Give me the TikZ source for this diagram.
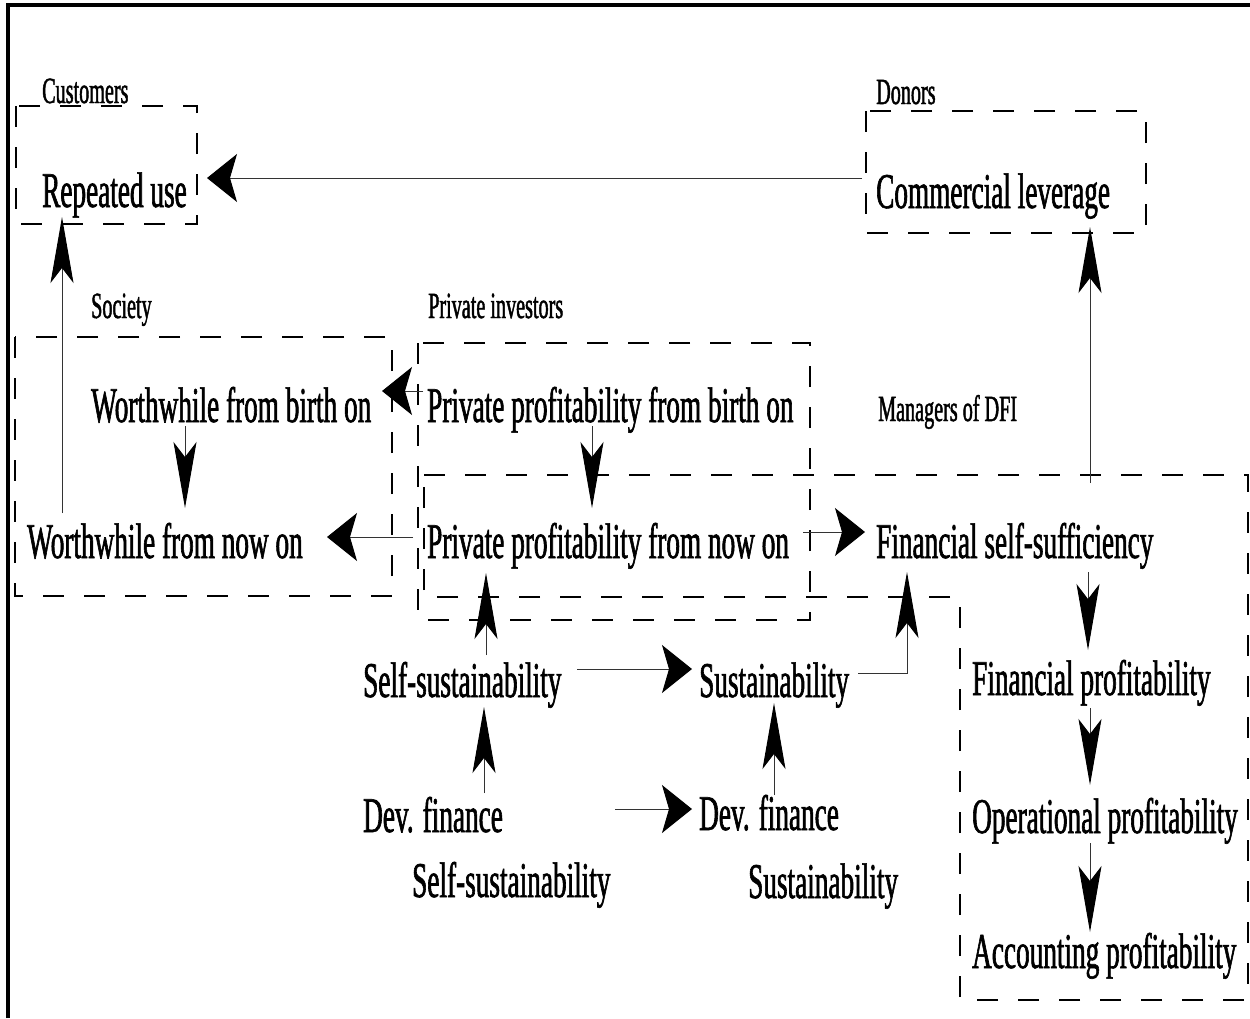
\documentclass[tikz,border=0pt]{standalone}
\usepackage{fontspec}
\newfontfamily\cond[FakeStretch=0.545,FakeBold=1.2]{Liberation Serif}
\usetikzlibrary{arrows.meta}
\begin{document}
\begin{tikzpicture}[x=1pt,y=-1pt,
  big/.style={anchor=base west, inner sep=0pt, font=\cond\fontsize{50}{55}\selectfont},
  small/.style={anchor=base west, inner sep=0pt, font=\cond\fontsize{37}{40}\selectfont},
  grp/.style={dash pattern=on 21pt off 20pt, line width=2.5pt},
  conn/.style={line width=1pt, draw=black!80},
  harr/.style={conn, -{Stealth[length=30pt,width=48pt,inset=7pt,color=black]}},
  varr/.style={conn, -{Stealth[length=66pt,width=23pt,inset=15pt,color=black]}},
  frame/.style={line width=4pt}]
\useasboundingbox[fill=white] (0,0) rectangle (1250,1018);
% frame
\draw[frame] (8,1018) -- (8,4.5) -- (1250,4.5);
% groups
\draw[grp] (16,106) rectangle (197,224);
\draw[grp] (866,111) rectangle (1146,233);
\draw[grp] (15,337) rectangle (392,596);
\draw[grp] (418,343) rectangle (810,620);
\draw[grp] (424,475) -- (1248,475) -- (1248,1000) -- (960,1000) -- (960,597) -- (424,597) -- cycle;
% group labels
\node[small] (lcust) at (42,103) {Customers};
\node[small] (ldon) at (876,104) {Donors};
\node[small] (lsoc) at (91,318) {Society};
\node[small] (lpi) at (428,318) {Private investors};
\node[small] (ldfi) at (878,421) {Managers of DFI};
% nodes
\node[big] (ru) at (42,207) {Repeated use};
\node[big] (cl) at (876,208) {Commercial leverage};
\node[big] (wb) at (91,422) {Worthwhile from birth on};
\node[big] (pb) at (427,422) {Private profitability from birth on};
\node[big] (wn) at (27,558) {Worthwhile from now on};
\node[big] (pn) at (427,558) {Private profitability from now on};
\node[big] (fss) at (876,558) {Financial self-sufficiency};
\node[big] (ss1) at (363,697) {Self-sustainability};
\node[big] (sus1) at (699,697) {Sustainability};
\node[big] (fp) at (972,695) {Financial profitability};
\node[big] (df1) at (363,832) {Dev. finance};
\node[big] (df2) at (699,830) {Dev. finance};
\node[big] (op) at (972,833) {Operational profitability};
\node[big] (ss2) at (412,897) {Self-sustainability};
\node[big] (sus2) at (748,898) {Sustainability};
\node[big] (ap) at (972,968) {Accounting profitability};
% connectors
\draw[harr] ([shift={(-14,-30)}]cl.base west) -- ([shift={(165,-29)}]ru.base west);
\draw[varr] ([shift={(35,-45)}]wn.base west) -- ([shift={(20,10)}]ru.base west);
\draw[harr] ([shift={(-4,-31)}]pb.base west) -- ([shift={(291,-31)}]wb.base west);
\draw[harr] ([shift={(-14,-21)}]pn.base west) -- ([shift={(300,-21)}]wn.base west);
\draw[varr] ([shift={(94,4)}]wb.base west) -- ([shift={(158,-50)}]wn.base west);
\draw[varr] ([shift={(165,4)}]pb.base west) -- ([shift={(165,-50)}]pn.base west);
\draw[harr] ([shift={(376,-26)}]pn.base west) -- ([shift={(-11,-26)}]fss.base west);
\draw[varr] ([shift={(214,-75)}]fss.base west) -- ([shift={(214,19)}]cl.base west);
\draw[varr] ([shift={(212,14)}]fss.base west) -- ([shift={(116,-45)}]fp.base west);
\draw[varr] ([shift={(118,13)}]fp.base west) -- ([shift={(118,-48)}]op.base west);
\draw[varr] ([shift={(118,10)}]op.base west) -- ([shift={(118,-36)}]ap.base west);
\draw[varr] ([shift={(123,-42)}]ss1.base west) -- ([shift={(59,15)}]pn.base west);
\draw[harr] ([shift={(214,-28)}]ss1.base west) -- ([shift={(-7,-28)}]sus1.base west);
\draw[varr] ([shift={(159,-24)}]sus1.base west) -| ([shift={(31,14)}]fss.base west);
\draw[varr] ([shift={(121,-39)}]df1.base west) -- ([shift={(121,10)}]ss1.base west);
\draw[harr] ([shift={(252,-23)}]df1.base west) -- ([shift={(-7,-21)}]df2.base west);
\draw[varr] ([shift={(75,-35)}]df2.base west) -- ([shift={(75,6)}]sus1.base west);
\end{tikzpicture}
\end{document}
